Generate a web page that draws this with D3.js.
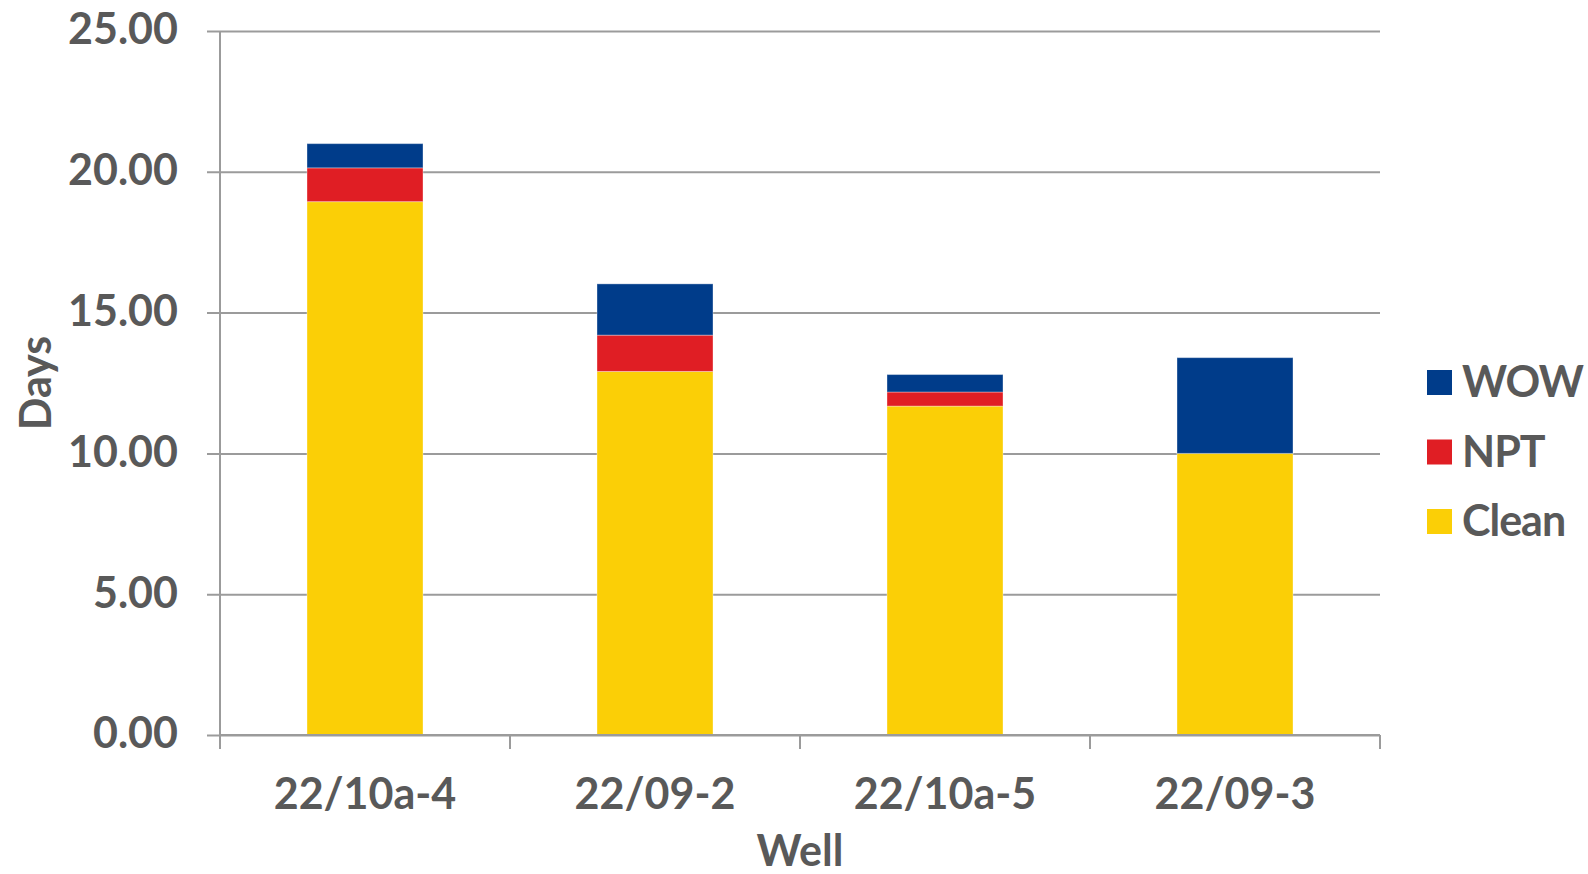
<!DOCTYPE html>
<html>
<head>
<meta charset="utf-8">
<script src="https://cdn.jsdelivr.net/npm/d3@7"></script>
<style>
	body { margin: 0; background: #fff; }
	svg text { font-family: Lato, "Open Sans", sans-serif; font-weight: 700; fill: #595959; }
</style>
</head>
<body>
<div id="wrapper"></div>
<script>
const wells = ["22/10a-4", "22/09-2", "22/10a-5", "22/09-3"];
const clean = [18.94, 12.91, 11.68, 10.0];
const npt = [1.2, 1.29, 0.5, 0];
const wow = [0.86, 1.82, 0.62, 3.4];
const yTicks = [0, 5, 10, 15, 20, 25];
const seriesNames = ["Clean", "NPT", "WOW"];
const colors = { Clean: "#FBCF06", NPT: "#E01E24", WOW: "#003C8A" };

const dimensions = {
	width: 1588,
	height: 874,
	margins: { top: 31, right: 208, bottom: 139, left: 220 },
};
dimensions.boundedWidth =
	dimensions.width - dimensions.margins.left - dimensions.margins.right;
dimensions.boundedHeight =
	dimensions.height - dimensions.margins.top - dimensions.margins.bottom;

const table = wells.map((w, i) => ({ well: w, Clean: clean[i], NPT: npt[i], WOW: wow[i] }));
const stacked = d3.stack().keys(seriesNames)(table);

const svg = d3
	.select("#wrapper")
	.append("svg")
	.attr("width", dimensions.width)
	.attr("height", dimensions.height);
const bounds = svg
	.append("g")
	.attr("transform", `translate(${dimensions.margins.left}, ${dimensions.margins.top})`);

const xScale = d3
	.scaleBand()
	.domain(wells)
	.range([0, dimensions.boundedWidth])
	.paddingInner(0.6)
	.paddingOuter(0.3);
const yScale = d3
	.scaleLinear()
	.domain([0, 25])
	.range([dimensions.boundedHeight, 0]);

// gridlines + y labels
const yAxis = bounds
	.append("g")
	.call(
		d3.axisLeft(yScale)
			.tickValues(yTicks)
			.tickFormat(d3.format(".2f"))
			.tickSize(-dimensions.boundedWidth)
			.tickPadding(42)
	);
yAxis.select(".domain").remove();
yAxis.selectAll("line")
	.attr("x1", -13)
	.attr("stroke", "#9B9B9B")
	.attr("stroke-width", 2);
yAxis.selectAll("text")
	.attr("dy", "0.3em")
	.style("font-size", "43px");

// bars
bounds
	.selectAll(".series")
	.data(stacked)
	.join("g")
	.attr("class", "series")
	.attr("fill", (s) => colors[s.key])
	.selectAll("rect")
	.data((s) => s)
	.join("rect")
	.attr("x", (d) => xScale(d.data.well))
	.attr("width", xScale.bandwidth())
	.attr("y", (d) => yScale(d[1]))
	.attr("height", (d) => yScale(d[0]) - yScale(d[1]))
	.attr("stroke", "#ffffff")
	.attr("stroke-opacity", 0.35)
	.attr("stroke-width", 1);

// y axis line
bounds
	.append("line")
	.attr("x1", 0)
	.attr("x2", 0)
	.attr("y1", 0)
	.attr("y2", dimensions.boundedHeight)
	.attr("stroke", "#9B9B9B")
	.attr("stroke-width", 2);

// x axis: line, boundary ticks, labels
const xAxis = bounds
	.append("g")
	.attr("transform", `translate(0, ${dimensions.boundedHeight})`);
xAxis
	.append("line")
	.attr("x1", 0)
	.attr("x2", dimensions.boundedWidth)
	.attr("stroke", "#9B9B9B")
	.attr("stroke-width", 2);
const half = xScale.step() * 0.3;
const boundaryX = wells.map((w) => xScale(w) - half).concat([dimensions.boundedWidth]);
xAxis
	.selectAll(".xtick")
	.data(boundaryX)
	.join("line")
	.attr("class", "xtick")
	.attr("x1", (d) => d)
	.attr("x2", (d) => d)
	.attr("y1", 0)
	.attr("y2", 14)
	.attr("stroke", "#9B9B9B")
	.attr("stroke-width", 2);
xAxis
	.selectAll(".xlabel")
	.data(wells)
	.join("text")
	.attr("class", "xlabel")
	.attr("x", (d) => xScale(d) + xScale.bandwidth() / 2)
	.attr("y", 74)
	.attr("text-anchor", "middle")
	.style("font-size", "43px")
	.text((d) => d);

// axis titles
svg
	.append("text")
	.attr("x", dimensions.margins.left + dimensions.boundedWidth / 2)
	.attr("y", 866)
	.attr("text-anchor", "middle")
	.style("font-size", "43px")
	.text("Well");
svg
	.append("text")
	.attr("transform", `translate(51, ${dimensions.margins.top + dimensions.boundedHeight / 2}) rotate(-90)`)
	.attr("text-anchor", "middle")
	.style("font-size", "43px")
	.text("Days");

// legend
const legend = svg
	.append("g")
	.attr("transform", "translate(1427, 370)");
const legendItems = legend
	.selectAll("g")
	.data(["WOW", "NPT", "Clean"])
	.join("g")
	.attr("transform", (d, i) => `translate(0, ${i * 69.5})`);
legendItems
	.append("rect")
	.attr("width", 25)
	.attr("height", 25)
	.attr("fill", (d) => colors[d]);
legendItems
	.append("text")
	.attr("x", 35)
	.attr("y", 27)
	.style("font-size", "43px")
	.style("letter-spacing", "-1px")
	.text((d) => d);
</script>
</body>
</html>
